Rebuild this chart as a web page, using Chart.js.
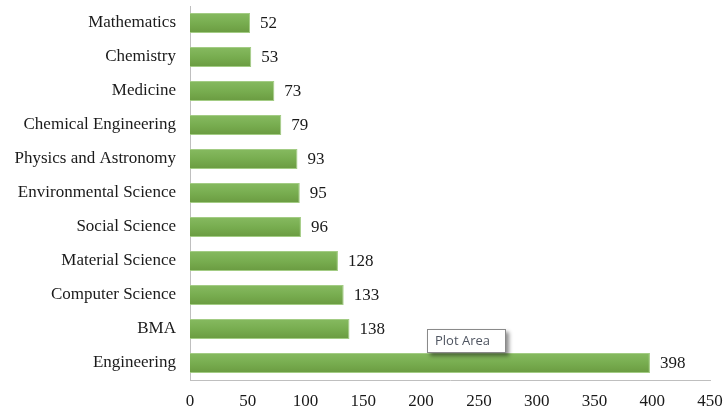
<!DOCTYPE html>
<html>
<head>
<meta charset="utf-8">
<script src="https://cdn.jsdelivr.net/npm/chart.js@4/dist/chart.umd.min.js"></script>
<style>
   html, body { margin: 0; padding: 0; background: #fff; }
   #wrap { width: 723px; height: 411px; position: relative; }
</style>
</head>
<body>
<div id="wrap"><canvas id="myChart"></canvas></div>
<script>
// ==========================================
// Publications by subject area
// ==========================================

const subjects = [
   "Mathematics", "Chemistry", "Medicine", "Chemical Engineering",
   "Physics and Astronomy", "Environmental Science", "Social Science",
   "Material Science", "Computer Science", "BMA", "Engineering"
];
const counts = [52, 53, 73, 79, 93, 95, 96, 128, 133, 138, 398];
const xTicks = [0, 50, 100, 150, 200, 250, 300, 350, 400, 450];

const serif = "'Liberation Serif', 'Times New Roman', serif";

// green bar with a soft top-to-bottom shade
function barFill(c) {
   const chart = c.chart;
   const y = chart.scales.y;
   const mid = y ? y.getPixelForValue(c.dataIndex) : NaN;
   if (!Number.isFinite(mid)) return "#76aa4d";
   const g = chart.ctx.createLinearGradient(0, mid - 10, 0, mid + 10);
   g.addColorStop(0, "#86ba60");
   g.addColorStop(0.5, "#78ad50");
   g.addColorStop(1, "#6a9b41");
   return g;
}

// numbers at the end of each bar
const valueLabels = {
   id: "valueLabels",
   afterDatasetsDraw(chart) {
      const c = chart.ctx;
      const meta = chart.getDatasetMeta(0);
      c.save();
      c.font = "17px " + serif;
      c.fillStyle = "#1a1a1a";
      c.textAlign = "left";
      c.textBaseline = "middle";
      meta.data.forEach((bar, i) => {
         c.fillText(String(counts[i]), bar.x + 10, bar.y + 1);
      });
      c.restore();
   }
};

// hover hint box left over on the plot
const plotHint = {
   id: "plotHint",
   afterDraw(chart) {
      const c = chart.ctx;
      c.save();
      c.shadowColor = "rgba(0,0,0,0.45)";
      c.shadowBlur = 4;
      c.shadowOffsetX = 3;
      c.shadowOffsetY = 3;
      c.fillStyle = "#fff";
      c.fillRect(427, 329, 79, 24);
      c.shadowColor = "transparent";
      c.strokeStyle = "#8a8a8a";
      c.lineWidth = 1;
      c.strokeRect(427.5, 329.5, 78, 23);
      c.font = "13px 'Open Sans', 'DejaVu Sans', sans-serif";
      c.fillStyle = "#4f5561";
      c.textBaseline = "middle";
      c.fillText("Plot Area", 435, 341);
      c.restore();
   }
};

const ctx = document.getElementById("myChart");

let chart = new Chart(ctx, {
   type: "bar",
   data: {
      labels: subjects,
      datasets: [{
         label: "documents",
         data: counts,
         backgroundColor: barFill,
         borderColor: "#a3cc84",
         borderWidth: 1,
         categoryPercentage: 0.59,
         barPercentage: 1
      }]
   },
   options: {
      indexAxis: "y",
      responsive: true,
      maintainAspectRatio: false,
      animation: false,
      layout: { padding: { top: 6, right: 13, left: 0, bottom: 0 } },
      plugins: {
         legend: { display: false },
         tooltip: { enabled: false }
      },
      scales: {
         x: {
            min: 0,
            max: 450,
            afterBuildTicks(s) { s.ticks = xTicks.map((v) => ({ value: v })); },
            afterFit(s) {
               s.height = 31;
               s.paddingLeft = 0;
               s.paddingRight = 0;
            },
            grid: { display: false, drawTicks: false },
            border: { display: true, color: "#bfbfbf", width: 1 },
            ticks: {
               padding: 11,
               color: "#1a1a1a",
               font: { family: serif, size: 17 }
            }
         },
         y: {
            afterFit(s) {
               s.width = 190;
               s.paddingTop = 0;
               s.paddingBottom = 0;
            },
            grid: { display: false, drawTicks: false },
            border: { display: true, color: "#bfbfbf", width: 1 },
            ticks: {
               padding: 14,
               color: "#1a1a1a",
               font: { family: serif, size: 17 }
            }
         }
      }
   },
   plugins: [valueLabels, plotHint]
});
</script>
</body>
</html>
